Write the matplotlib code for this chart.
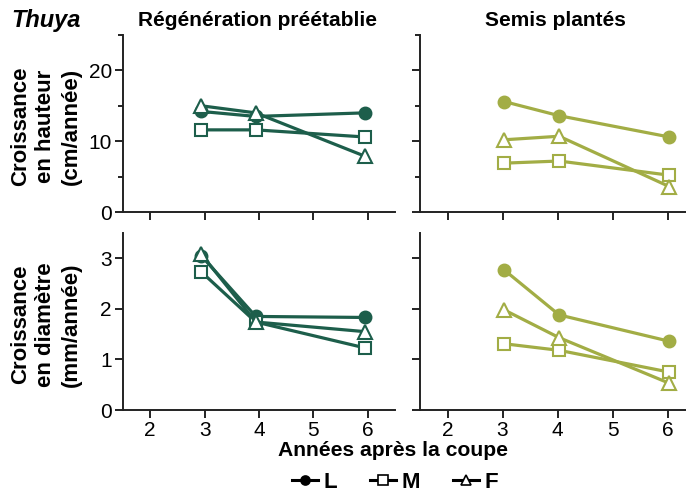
import matplotlib
matplotlib.use("Agg")
import matplotlib.pyplot as plt
from matplotlib.lines import Line2D
from matplotlib.ticker import MultipleLocator

plt.rcParams['font.family'] = ['Liberation Sans', 'DejaVu Sans']

# ---- data ----
years = [3, 4, 6]
groups = ["L", "M", "F"]

# Height growth (cm/année)
height_regen = {"L": [14.2, 13.5, 14.0], "M": [11.6, 11.6, 10.6], "F": [15.0, 14.0, 7.9]}
height_semis = {"L": [15.6, 13.6, 10.6], "M": [6.9, 7.2, 5.2], "F": [10.2, 10.7, 3.6]}
# Diameter growth (mm/année)
diam_regen = {"L": [3.05, 1.85, 1.83], "M": [2.73, 1.74, 1.23], "F": [3.08, 1.74, 1.55]}
diam_semis = {"L": [2.77, 1.88, 1.36], "M": [1.31, 1.18, 0.75], "F": [1.98, 1.43, 0.53]}

col_titles = ["Régénération préétablie", "Semis plantés"]
row_labels = ["Croissance\nen hauteur\n(cm/année)", "Croissance\nen diamètre\n(mm/année)"]
xlabel = "Années après la coupe"
species = "Thuya"

# ---- style ----
colors = ["#1d5e4b", "#a2ad45"]
markers = {"L": "o", "M": "s", "F": "^"}
msizes = {"L": 8.5, "M": 8.5, "F": 10}
shifts = [-0.06, 0.03]

W, H = 686, 491
fig = plt.figure(figsize=(W / 100, H / 100), dpi=100)

def add_ax(l, r, t, b):
    return fig.add_axes([l / W, 1 - b / H, (r - l) / W, (b - t) / H])

lefts = [(123, 395), (420, 695)]
rows = [(35, 212), (233, 410)]
data = [[height_regen, height_semis], [diam_regen, diam_semis]]

for ri, (t, b) in enumerate(rows):
    for ci, (l, r) in enumerate(lefts):
        ax = add_ax(l, r, t, b)
        d = data[ri][ci]
        for g in groups:
            xs = [x + shifts[ci] for x in years]
            ax.plot(xs, d[g], color=colors[ci], lw=2.3, marker=markers[g],
                    ms=msizes[g], mfc=colors[ci] if g == "L" else "white",
                    mec=colors[ci], mew=1.5, clip_on=False, zorder=3)
        ax.set_xlim(1.5, 6.5)
        ax.set_xticks([2, 3, 4, 5, 6])
        if ri == 0:
            ax.set_ylim(0, 25)
            ax.yaxis.set_major_locator(MultipleLocator(10))
            ax.yaxis.set_minor_locator(MultipleLocator(5))
        else:
            ax.set_ylim(0, 3.5)
            ax.set_yticks([0, 1, 2, 3])
        for s in ["top", "right"]:
            ax.spines[s].set_visible(False)
        for s in ["left", "bottom"]:
            ax.spines[s].set_linewidth(1.4)
            ax.spines[s].set_color("#222222")
        ax.tick_params(which="major", length=6, width=1.4, labelsize=15,
                       color="#222222", pad=2)
        ax.tick_params(which="minor", length=3.5, width=1.4, color="#222222")
        if ri == 0:
            ax.tick_params(axis="x", labelbottom=False)
        if ci == 1:
            ax.tick_params(axis="y", labelleft=False)
        if ri == 0:
            fig.text((l + 135) / W, 1 - 21 / H, col_titles[ci], fontsize=15,
                     fontweight="bold", ha="center", va="center")
        if ci == 0:
            fig.text(46 / W, 1 - ((t + b) / 2 + 3) / H, row_labels[ri], fontsize=16,
                     fontweight="bold", rotation=90, ha="center", va="center",
                     linespacing=1.3, multialignment="center")

fig.text(11 / W, 1 - 21 / H, species, fontsize=17, fontweight="bold",
         fontstyle="italic", va="center", ha="left")
fig.text(393 / W, 1 - 451 / H, xlabel, fontsize=15.2, fontweight="bold",
         ha="center", va="center")

handles = [Line2D([], [], color="black", lw=2.2, marker=markers[g], ms=6.5 if g != "F" else 7.5,
                  mfc="black" if g == "L" else "white", mec="black", mew=1.2)
           for g in groups]
fig.legend(handles, groups, loc="center", bbox_to_anchor=(395 / W, 1 - 482 / H),
           ncol=3, frameon=False, handlelength=1.2, handletextpad=0.25,
           columnspacing=1.45, prop={"size": 16, "weight": "bold"})

fig.savefig("out.png", dpi=100)
